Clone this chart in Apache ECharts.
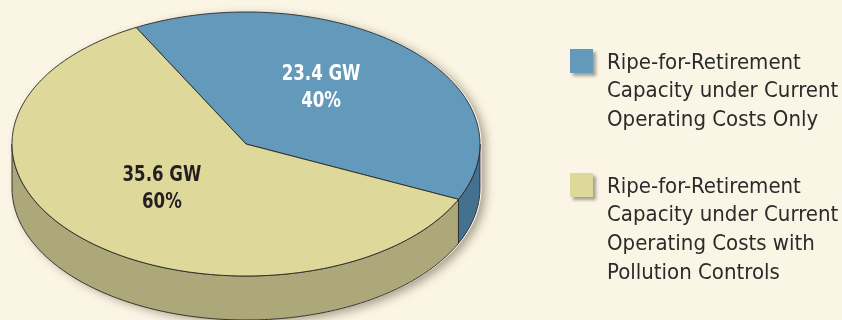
<!DOCTYPE html>
<html>
<head>
<meta charset="utf-8">
<script src="https://cdn.jsdelivr.net/npm/echarts@6/dist/echarts.min.js"></script>
<style>
  html, body { margin: 0; padding: 0; background: #FBF5E5; }
  #chart { width: 842px; height: 320px; }
</style>
</head>
<body>
<div id="chart"></div>
<script>
// Capacity split, GW
const categories = [
  'Ripe-for-Retirement Capacity under Current Operating Costs Only',
  'Ripe-for-Retirement Capacity under Current Operating Costs with Pollution Controls'
];
const capacityGW = [23.4, 35.6];
const legendLines = [
  ['Ripe-for-Retirement', 'Capacity under Current', 'Operating Costs Only'],
  ['Ripe-for-Retirement', 'Capacity under Current', 'Operating Costs with', 'Pollution Controls']
];

// Styling
const topColors = ['#6399BA', '#DFD89B'];
const sideColors = ['#44718F', '#ACA87A'];
const labelColors = ['#FFFFFF', '#231F20'];
const condensed = '"Liberation Sans Narrow", "DejaVu Sans Condensed", "Arial Narrow", sans-serif';

// Tilted pie geometry
const pie = { cx: 246, cy: 144, rx: 234, ry: 132, depth: 44, startDeg: -118 };

const total = capacityGW.reduce((a, b) => a + b, 0);
const sliceAngles = [];
{
  let a = pie.startDeg * Math.PI / 180;
  capacityGW.forEach(v => {
    const span = v / total * Math.PI * 2;
    sliceAngles.push([a, a + span]);
    a += span;
  });
}

function ellipsePt(phi, dy) {
  return [pie.cx + pie.rx * Math.cos(phi), pie.cy + pie.ry * Math.sin(phi) + (dy || 0)];
}
function arcPts(a, b, dy) {
  const n = Math.max(8, Math.ceil(Math.abs(b - a) / (Math.PI / 180)));
  const pts = [];
  for (let i = 0; i <= n; i++) pts.push(ellipsePt(a + (b - a) * i / n, dy));
  return pts;
}
// parts of [a, b] that face the viewer (lower half of the ellipse)
function frontRanges(a, b) {
  const out = [];
  for (let k = -2; k <= 2; k++) {
    const lo = Math.max(a, 2 * Math.PI * k);
    const hi = Math.min(b, 2 * Math.PI * k + Math.PI);
    if (hi > lo) out.push([lo, hi]);
  }
  return out;
}

const edge = '#262626';

function renderSlice(params, api) {
  const i = params.dataIndex;
  const value = api.value(0);
  const [a, b] = sliceAngles[i];
  const children = [];

  if (i === 0) {
    // drop shadow under the whole disc
    const sil = arcPts(0, Math.PI, pie.depth).concat(arcPts(Math.PI, 2 * Math.PI, 0));
    children.push({
      type: 'polygon', z2: 0,
      shape: { points: sil },
      x: 1.5,
      style: { fill: '#FFFFFF', shadowBlur: 10, shadowOffsetX: 4, shadowOffsetY: 3, shadowColor: 'rgba(70,60,30,0.45)' }
    });
  }

  frontRanges(a, b).forEach(([lo, hi]) => {
    const pts = arcPts(lo, hi, 0).concat(arcPts(hi, lo, pie.depth));
    children.push({
      type: 'polygon', z2: 5,
      shape: { points: pts },
      style: { fill: sideColors[i], stroke: edge, lineWidth: 0.9, lineJoin: 'round' }
    });
  });

  const topPts = [[pie.cx, pie.cy]].concat(arcPts(a, b, 0));
  children.push({
    type: 'polygon', z2: 10,
    shape: { points: topPts },
    style: { fill: topColors[i], stroke: edge, lineWidth: 0.9, lineJoin: 'round' }
  });

  // value label placed toward the middle of the slice's top face
  const mid = (a + b) / 2;
  const pct = Math.round(value / total * 100);
  children.push({
    type: 'text', z2: 20,
    x: pie.cx + 0.495 * pie.rx * Math.cos(mid) - 4.5,
    y: pie.cy + 0.525 * pie.ry * Math.sin(mid) - 6,
    scaleX: 0.84,
    style: {
      text: value.toFixed(1) + ' GW\n' + pct + '%',
      fill: labelColors[i],
      font: 'bold 22px ' + condensed,
      align: 'center', verticalAlign: 'middle', lineHeight: 27
    }
  });

  return { type: 'group', children };
}

// Legend blocks
const legendX = 570, legendTextX = 607;
const legendTops = [49, 173];
const legendGraphics = [];
legendLines.forEach((lines, i) => {
  legendGraphics.push({
    type: 'rect',
    shape: { x: legendX, y: legendTops[i], width: 23, height: 24 },
    style: { fill: topColors[i], shadowBlur: 3, shadowOffsetX: 3, shadowOffsetY: 3, shadowColor: 'rgba(0,0,0,0.35)' }
  });
  legendGraphics.push({
    type: 'text',
    x: legendTextX, y: legendTops[i] - 0.5,
    style: {
      text: lines.join('\n'),
      fill: '#2B2B2B',
      font: '22px ' + condensed,
      lineHeight: 28.7,
      verticalAlign: 'top', align: 'left'
    }
  });
});

const chart = echarts.init(document.getElementById('chart'), null, { renderer: 'canvas' });
chart.setOption({
  backgroundColor: '#FBF5E5',
  animation: false,
  series: [{
    type: 'custom',
    coordinateSystem: 'none',
    data: capacityGW.map((v, i) => ({ name: categories[i], value: v })),
    renderItem: renderSlice
  }],
  graphic: legendGraphics
});
</script>
</body>
</html>
